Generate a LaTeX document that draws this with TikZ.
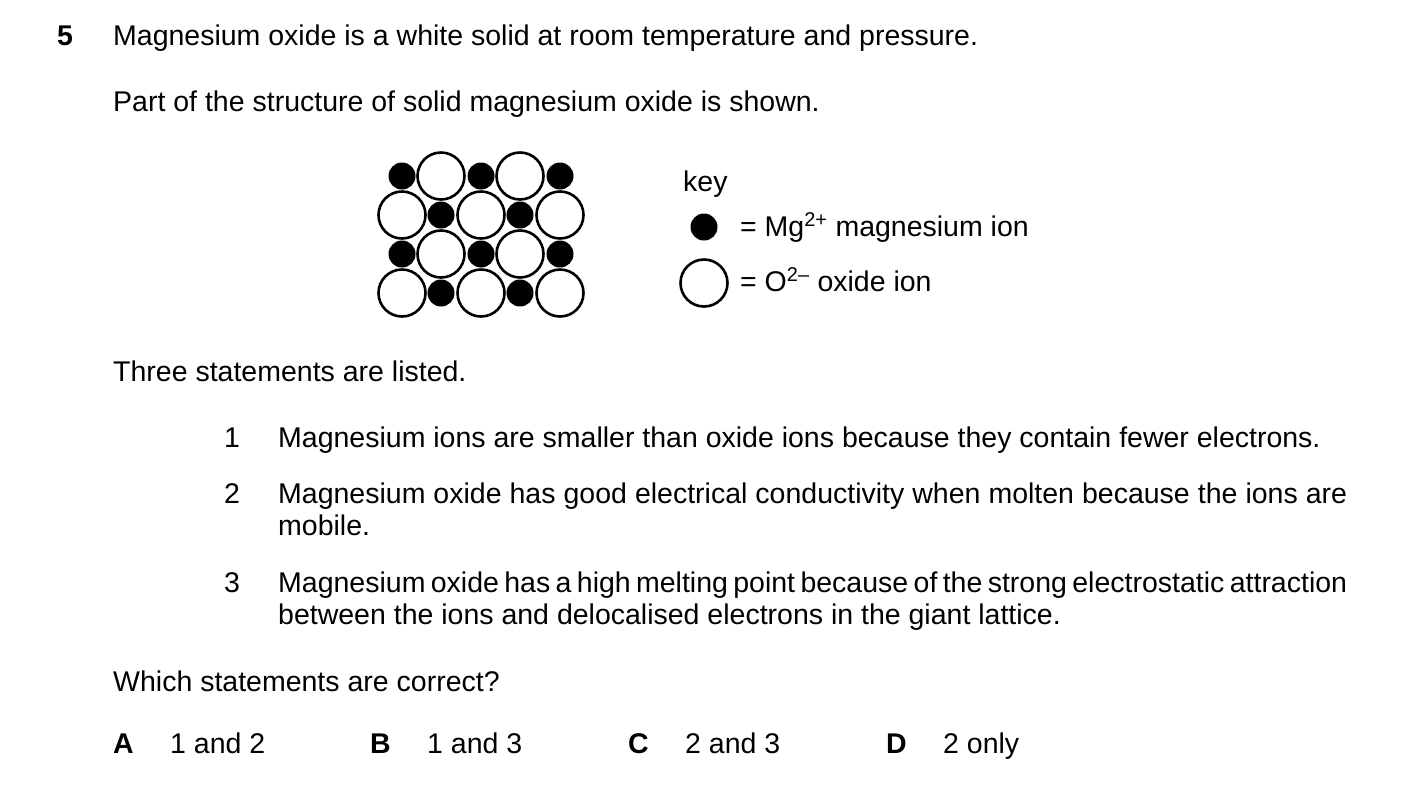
\documentclass[tikz,border=0pt]{standalone}
\usepackage{fontspec}
\setmainfont{Liberation Sans}
\tikzset{
  txt/.style={anchor=base west, inner sep=0pt, font=\fontsize{28.5}{32}\selectfont},
  stmt/.style={txt, text width=1069pt, align=justify},
  oxide/.style={circle, draw, line width=2.6pt, minimum size=47pt, inner sep=0pt},
  mgion/.style={circle, fill, minimum size=27pt, inner sep=0pt}
}
\begin{document}
\begin{tikzpicture}[x=1pt,y=-1pt]
\useasboundingbox (0,0) rectangle (1403,804);
\node [txt, font=\fontsize{28.5}{32}\selectfont\bfseries] (qnum) at (57,45) {5};
\node [txt] (intro) at (113,45) {Magnesium oxide is a white solid at room temperature and pressure.};
\node [txt] (part) at (113,111) {Part of the structure of solid magnesium oxide is shown.};
% lattice
\foreach \r/\y in {1/176,2/215,3/254,4/293}{
  \ifodd\r
    \foreach \c/\x in {1/402,2/481,3/560}{\node [mgion] (mg\r\c) at (\x,\y) {};}
    \foreach \c/\x in {1/441,2/520}{\node [oxide] (ox\r\c) at (\x,\y) {};}
  \else
    \foreach \c/\x in {1/402,2/481,3/560}{\node [oxide] (ox\r\c) at (\x,\y) {};}
    \foreach \c/\x in {1/441,2/520}{\node [mgion] (mg\r\c) at (\x,\y) {};}
  \fi
}
% key
\node [txt] (key) at (683,191) {key};
\node [mgion] (keymg) at (704,227) {};
\node [txt] (keymgtxt) at (740,236) {= Mg\textsuperscript{2+} magnesium ion};
\node [oxide] (keyox) at (704,283) {};
\node [txt] (keyoxtxt) at (740,291) {= O\textsuperscript{2–} oxide ion};
\node [txt] (three) at (113,381) {Three statements are listed.};
\node [txt] (n1) at (224,447) {1};
\node [txt] (s1) at (278,447) {Magnesium ions are smaller than oxide ions because they contain fewer electrons.};
\node [txt] (n2) at (224,503) {2};
\node [stmt] (s2) at (278,503) {Magnesium oxide has good electrical conductivity when molten because the ions are mobile.};
\node [txt] (n3) at (224,592) {3};
\node [stmt] (s3) at (278,592) {Magnesium oxide has a high melting point because of the strong electrostatic attraction between the ions and delocalised electrons in the giant lattice.};
\node [txt] (which) at (113,691) {Which statements are correct?};
\foreach \l/\a/\t in {A/113/1 and 2,B/370/1 and 3,C/628/2 and 3,D/886/2 only}{
  \node [txt, font=\fontsize{28.5}{32}\selectfont\bfseries] (opt\l) at (\a,753) {\l};
  \node [txt] (ans\l) at (\a+57,753) {\t};
}
\end{tikzpicture}
\end{document}
